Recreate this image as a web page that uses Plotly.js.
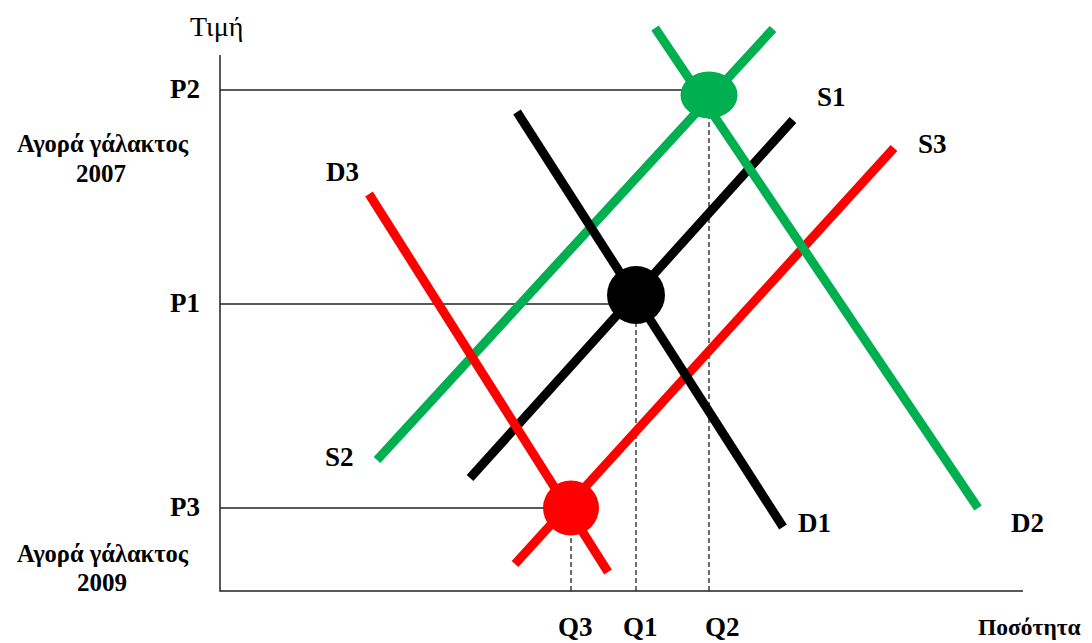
<!DOCTYPE html>
<html>
<head>
<meta charset="utf-8">
<script src="https://cdn.plot.ly/plotly-3.0.1.min.js"></script>
<style>
  html, body { margin: 0; padding: 0; background: #fff; }
  #plot { width: 1092px; height: 643px; }
</style>
</head>
<body>
<div id="plot"></div>
<script>
// supply / demand curves: [start, end] in quantity / price units
const curveNames = ["S2", "S1", "S3", "D1", "D3", "D2"];
const curveQ = [[15.7, 55.3], [25.0, 57.3], [29.5, 67.4], [29.7, 56.3], [14.9, 38.8], [43.5, 75.8]];
const curveP = [[13.1, 56.2], [11.3, 47.1], [2.7, 44.3], [47.9, 6.4], [39.7, 1.9], [56.3, 8.3]];

// equilibria
const eqNames = ["E1", "E2", "E3"];
const eqQ = [41.6, 48.9, 35.1];
const eqP = [29.6, 49.6, 8.3];

// price levels and quantities marked on the axes
const priceLabels = ["P1", "P2", "P3"];
const priceLevels = [28.7, 50.1, 8.3];
const qtyLabels = ["Q1", "Q2", "Q3"];
const qtyLevels = [41.6, 48.9, 35.1];

const axisTop = 53.6;
const axisEnd = 80.3;

const colorOf = { S1: "#000000", D1: "#000000", S2: "#00B050", D2: "#00B050", S3: "#FF0000", D3: "#FF0000" };
const eqColor = { E1: "#000000", E2: "#00B050", E3: "#FF0000" };
const eqSize = { E1: [58, 58], E2: [57, 47], E3: [56, 55] };

const serif = "Liberation Serif, Times New Roman, serif";

document.addEventListener("DOMContentLoaded", function () {
  const traces = [];

  // axes
  traces.push({
    x: [0, 0, axisEnd], y: [axisTop, 0, 0],
    mode: "lines", line: { color: "#222", width: 1.5 }, hoverinfo: "skip"
  });

  // horizontal price guides (from axis to the equilibrium)
  priceLevels.forEach((p, i) => {
    traces.push({
      x: [0, qtyLevels[i]], y: [p, p],
      mode: "lines", line: { color: "#222", width: 1.3 }, hoverinfo: "skip"
    });
  });

  // dashed quantity guides
  qtyLevels.forEach((q, i) => {
    traces.push({
      x: [q, q], y: [0, eqP[i]],
      mode: "lines", line: { color: "#222", width: 1.3, dash: "5px,3px" }, hoverinfo: "skip"
    });
  });

  // curves
  curveNames.forEach((name, i) => {
    traces.push({
      x: curveQ[i], y: curveP[i], name: name,
      mode: "lines", line: { color: colorOf[name], width: 9 }, hoverinfo: "skip"
    });
  });

  // equilibrium dots
  const shapes = eqNames.map((name, i) => ({
    type: "circle", xref: "x", yref: "y",
    xsizemode: "pixel", ysizemode: "pixel",
    xanchor: eqQ[i], yanchor: eqP[i],
    x0: -eqSize[name][0] / 2, x1: eqSize[name][0] / 2,
    y0: -eqSize[name][1] / 2, y1: eqSize[name][1] / 2,
    fillcolor: eqColor[name], line: { width: 0 }, layer: "above"
  }));

  const bold = (size) => ({ family: serif, size: size, color: "#000", weight: "bold" });
  const ann = (x, y, text, xs, ys, font, xanchor) => ({
    x: x, y: y, xref: "x", yref: "y", text: text, showarrow: false,
    xshift: xs, yshift: ys, font: font, xanchor: xanchor || "center", yanchor: "middle"
  });

  const annotations = [];
  // curve labels next to their end points
  const curveLabelAt = { S1: [1, 38, 23], S3: [1, 38, 4], D1: [1, 31, 4], D2: [1, 49, -15], D3: [0, -27, 22], S2: [0, -38, 3] };
  curveNames.forEach((name, i) => {
    const [end, xs, ys] = curveLabelAt[name];
    annotations.push(ann(curveQ[i][end], curveP[i][end], name, xs, ys, bold(27)));
  });
  priceLabels.forEach((t, i) => annotations.push(ann(0, priceLevels[i], t, -18, 1, bold(27), "right")));
  const qShift = [4, 13, 4];
  qtyLabels.forEach((t, i) => annotations.push(ann(qtyLevels[i], 0, t, qShift[i], -36, bold(27))));

  annotations.push(ann(0, priceLevels[1], "Αγορά γάλακτος", -117, -53, bold(24.5)));
  annotations.push(ann(0, priceLevels[1], "2007", -119, -83, bold(25)));
  annotations.push(ann(0, priceLevels[2], "Αγορά γάλακτος", -117, -45, bold(24.5)));
  annotations.push(ann(0, priceLevels[2], "2009", -118, -74, bold(25)));

  annotations.push(ann(0, axisTop, "Τιμή", -4, 29, { family: serif, size: 28, color: "#000" }));
  annotations.push(ann(axisEnd, 0, "Ποσότητα", 6, -36, bold(23.5)));

  const layout = {
    width: 1092, height: 643,
    margin: { l: 0, r: 0, t: 0, b: 0 },
    paper_bgcolor: "#fff", plot_bgcolor: "#fff",
    showlegend: false,
    xaxis: { range: [-22, 87.2], visible: false, fixedrange: true },
    yaxis: { range: [-5.2, 59.1], visible: false, fixedrange: true },
    shapes: shapes,
    annotations: annotations
  };

  Plotly.newPlot("plot", traces, layout, { displayModeBar: false, staticPlot: true });
});
</script>
</body>
</html>
